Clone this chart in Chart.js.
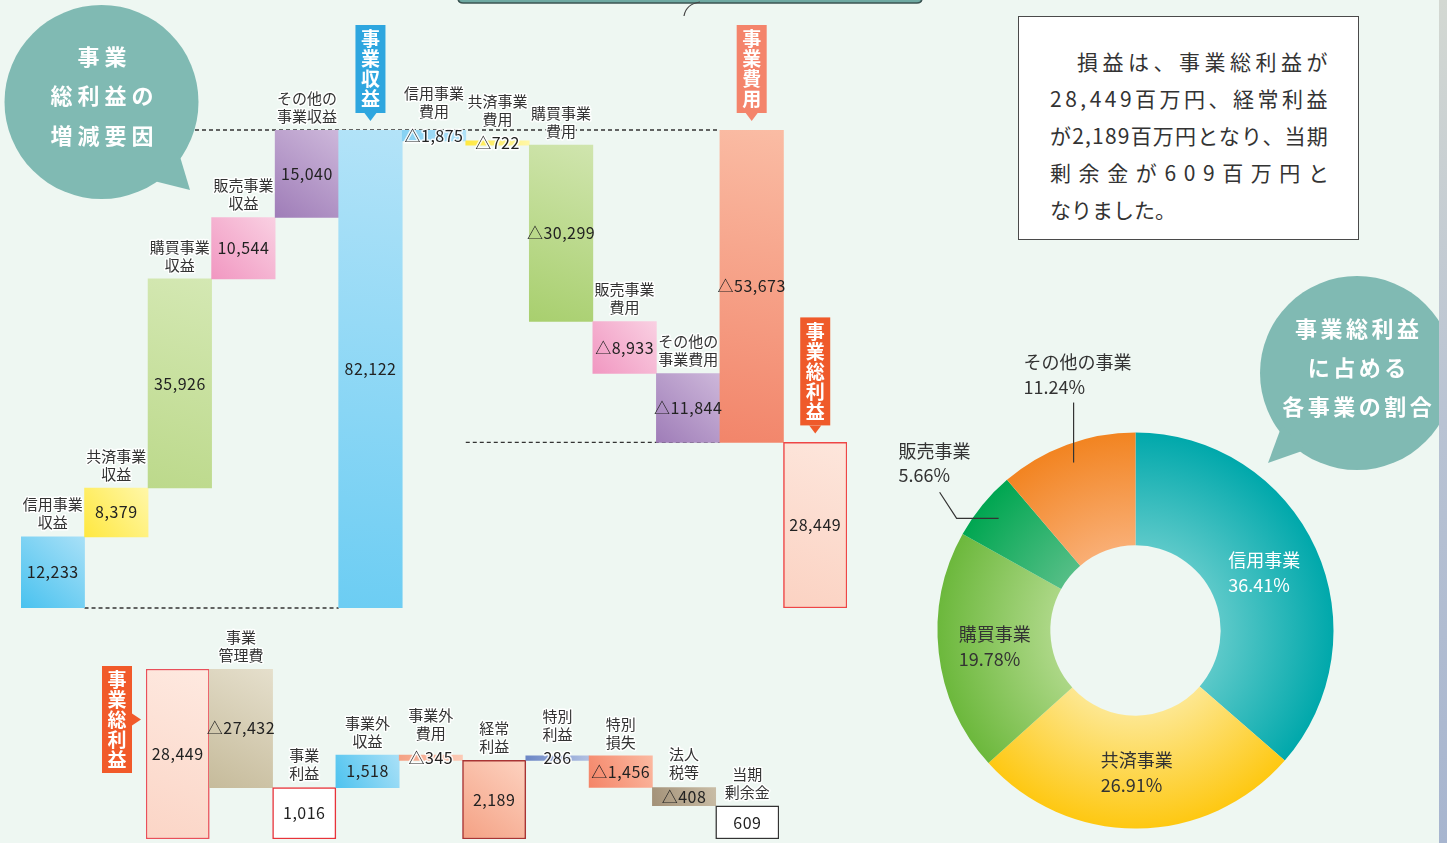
<!DOCTYPE html>
<html><head><meta charset="utf-8">
<script src="https://cdn.jsdelivr.net/npm/chart.js@4.4.1/dist/chart.umd.min.js"></script>
<style>
html,body{margin:0;padding:0;background:#eef7f2;width:1447px;height:843px;overflow:hidden;font-family:"Noto Sans CJK JP",sans-serif;}
canvas{position:absolute;}
#deco{position:absolute;left:0;top:0;}
.bt{position:absolute;box-sizing:border-box;width:200px;color:#fff;font-weight:700;font-size:22px;line-height:28px;text-align:center;white-space:nowrap;}
#note{position:absolute;left:1018px;top:16px;width:341px;height:224px;box-sizing:border-box;border:1px solid #4a4a4a;background:#fff;}
.nl{position:absolute;left:31px;font-size:21px;line-height:24px;color:#333;text-align:left;white-space:nowrap;}
</style></head>
<body>
<svg id="deco" width="1447" height="843">
  <defs>
    <linearGradient id="strip" x1="0" y1="0" x2="0" y2="1">
      <stop offset="0" stop-color="#d3d8d2"/><stop offset="0.5" stop-color="#b9c3d3"/><stop offset="1" stop-color="#a7b5cf"/>
    </linearGradient>
  </defs>
  <path d="M458,-10 L458,-2 Q458,3 463,3 L917,3 Q922,3 922,-2 L922,-10 Z" fill="#6ea9a2" stroke="#3b5553" stroke-width="1.5"/>
  <path d="M684,16 Q686,4 700,2" fill="none" stroke="#444" stroke-width="1.2"/>
  <circle cx="101.5" cy="102" r="97" fill="#80bab3"/>
  <polygon points="150,180 190,190 178,150" fill="#80bab3"/>
  <circle cx="1357" cy="373" r="97" fill="#80bab3"/>
  <polygon points="1282,425 1268,463 1305,450" fill="#80bab3"/>
  <rect x="1439" y="0" width="8" height="843" fill="url(#strip)"/>
</svg>

<canvas id="topChart" width="900" height="620" style="left:0;top:0"></canvas>
<canvas id="bottomChart" width="900" height="223" style="left:0;top:620px"></canvas>
<canvas id="donut" width="520" height="503" style="left:880px;top:340px"></canvas>

<div class="bt" style="left:2px;top:41px;letter-spacing:5px;padding-left:5px">事業</div>
<div class="bt" style="left:2px;top:80px;letter-spacing:5px;padding-left:5px">総利益の</div>
<div class="bt" style="left:2px;top:120px;letter-spacing:5px;padding-left:5px">増減要因</div>
<div class="bt" style="left:1257px;top:313px;letter-spacing:3.5px;padding-left:3.5px">事業総利益</div>
<div class="bt" style="left:1257px;top:352px;letter-spacing:3.5px;padding-left:3.5px">に占める</div>
<div class="bt" style="left:1257px;top:391px;letter-spacing:3.5px;padding-left:3.5px">各事業の割合</div>

<div id="note">
  <div class="nl" style="top:32px;left:58px;letter-spacing:4.5px">損益は、事業総利益が</div>
  <div class="nl" style="top:69px;letter-spacing:3.5px">28,449百万円、経常利益</div>
  <div class="nl" style="top:106px;letter-spacing:1.2px">が2,189百万円となり、当期</div>
  <div class="nl" style="top:143px;letter-spacing:7.6px">剰余金が609百万円と</div>
  <div class="nl" style="top:180px;">なりました。</div>
</div>

<script>
// ===== DATA =====
const topCategories = ['信用事業\n収益','共済事業\n収益','購買事業\n収益','販売事業\n収益','その他の\n事業収益','事業収益',
  '信用事業\n費用','共済事業\n費用','購買事業\n費用','販売事業\n費用','その他の\n事業費用','事業費用','事業総利益'];
const topValues = [12233, 8379, 35926, 10544, 15040, 82122, -1875, -722, -30299, -8933, -11844, -53673, 28449];
const topKinds  = ['step','step','step','step','step','total','step','step','step','step','step','span','total'];

const bottomCategories = ['事業総利益','事業\n管理費','事業\n利益','事業外\n収益','事業外\n費用','経常\n利益','特別\n利益','特別\n損失','法人\n税等','当期\n剰余金'];
const bottomValues = [28449, -27432, 1016, 1518, -345, 2189, 286, -1456, -408, 609];
const bottomKinds  = ['total','step','total','step','step','total','step','step','step','total'];

const shareLabels = ['信用事業','共済事業','購買事業','販売事業','その他の事業'];
const shareValues = [36.41, 26.91, 19.78, 5.66, 11.24];

// ===== STYLES =====
const topColors = [['#a8e0f7','#49c2ef'],['#fff7a8','#ffe840'],['#d4e8b3','#bcd98b'],['#f9d0e2','#f197c1'],['#cdb7da','#9f7db8'],
  ['#b3e3f8','#6ccdf3'],['#b0e2f8','#86d1f3'],['#fff7a8','#ffe840'],['#d0e5ae','#a8cf6e'],['#f9d0e2','#f197c1'],['#cdb7da','#9f7db8'],
  ['#fabca4','#f2856a'],['#fde6dc','#fbd2c2']];
const topBorder = ['','','','','','','','','','','','','#ee4646'];
const topTagColors = {5:'#2ea6df',11:'#f4846b',12:'#ef5a2a'};
const bottomColors = [['#fee9e0','#fbd5c6'],['#e5dfcc','#c6bb9b'],['#ffffff','#ffffff'],['#a9e0f7','#4ec3ef'],['#fccab6','#f4a184'],
  ['#fdd2c0','#f4a184'],['#b2c1e3','#6b86c5'],['#fbb9a1','#f48467'],['#c9bda6','#a39178'],['#ffffff','#ffffff']];
const bottomBorder = ['#e9505a','','#e8333a','','','#a83434','','','','#333333'];
const bottomTagColors = {0:'#f15a2a'};
const bottomAxisFloor = 240;   // lower bound of the logarithmic axis
const donutColors = [['#5cc9c9','#00a8ab'],['#fde790','#fec812'],['#acd786','#6cb83c'],['#55be86','#00a651'],['#f9ae74','#f28421']];
const donutTextColors = ['#ffffff','#333333','#333333','#333333','#333333'];
const donutPlacement = ['in','in','in','left','up'];

const FONT = '"Noto Sans CJK JP", sans-serif';
Chart.defaults.font.family = FONT;

function waterfall(values, kinds, floor){
  let level = 0, anchor = 0; const out = [];
  values.forEach((v,i)=>{
    const k = kinds[i];
    if(k==='total'){ out.push([floor, v]); level=v; anchor=v; }
    else if(k==='span'){ out.push([anchor+v, anchor]); level=anchor+v; }
    else { out.push([level, level+v]); level += v; }
  });
  return out;
}
const fmt = v => (v<0?'△':'') + Math.abs(v).toLocaleString('en-US');

function barGradient(pairs, ranges){
  return (c)=>{
    const ch=c.chart, ca=ch.chartArea, i=c.dataIndex;
    if(!ca) return pairs[i][1];
    const xs=ch.scales.x, ys=ch.scales.y;
    const w=(ca.right-ca.left)/ranges.length, xc=xs.getPixelForValue(i);
    const y0=ys.getPixelForValue(Math.max(...ranges[i])), y1=ys.getPixelForValue(Math.min(...ranges[i]));
    const g=ch.ctx.createLinearGradient(xc+w/2, y0, xc-w/2, y1);
    g.addColorStop(0,pairs[i][0]); g.addColorStop(1,pairs[i][1]);
    return g;
  };
}

function drawDownTag(ctx, cx, tipY, text, color){
  const chars=[...text], step=20, w=30, arrow=8;
  const h=chars.length*step+8, bottom=tipY-arrow, top=bottom-h;
  ctx.save();
  ctx.fillStyle=color; ctx.fillRect(cx-w/2, top, w, h);
  ctx.beginPath(); ctx.moveTo(cx-6,bottom); ctx.lineTo(cx+6,bottom); ctx.lineTo(cx,tipY); ctx.closePath(); ctx.fill();
  ctx.fillStyle='#fff'; ctx.font='bold 19px '+FONT; ctx.textAlign='center'; ctx.textBaseline='middle';
  chars.forEach((ch,k)=>ctx.fillText(ch, cx, top+4+step*(k+0.5)));
  ctx.restore();
}
function drawSideTag(ctx, tipX, top, text, color){
  const chars=[...text], step=20, w=30, arrow=9;
  const h=chars.length*step+7, right=tipX-arrow, left=right-w, cy=top+h/2;
  ctx.save();
  ctx.fillStyle=color; ctx.fillRect(left, top, w, h);
  ctx.beginPath(); ctx.moveTo(right,cy-6); ctx.lineTo(right,cy+6); ctx.lineTo(tipX,cy); ctx.closePath(); ctx.fill();
  ctx.fillStyle='#fff'; ctx.font='bold 19px '+FONT; ctx.textAlign='center'; ctx.textBaseline='middle';
  chars.forEach((ch,k)=>ctx.fillText(ch, left+w/2, top+4+step*(k+0.5)));
  ctx.restore();
}
function haloText(ctx, t, x, y){
  ctx.strokeText(t, x, y); ctx.fillText(t, x, y);
}

function labelPlugin(categories, values, tagColors, sideTag){
  return {
    id:'wfLabels',
    afterDatasetsDraw(chart){
      const ctx=chart.ctx, meta=chart.getDatasetMeta(0);
      ctx.save();
      meta.data.forEach((bar,i)=>{
        const p=bar.getProps(['x','y','base','width'], true);
        const top=Math.min(p.y,p.base), bot=Math.max(p.y,p.base), mid=(top+bot)/2;
        ctx.font='16px '+FONT; ctx.textAlign='center'; ctx.textBaseline='middle';
        if('letterSpacing' in ctx) ctx.letterSpacing='0.5px';
        ctx.fillStyle='#222';
        if(bot-top<18){ ctx.strokeStyle='rgba(255,255,255,0.85)'; ctx.lineWidth=3; ctx.lineJoin='round'; haloText(ctx, fmt(values[i]), p.x, mid); }
        else ctx.fillText(fmt(values[i]), p.x, mid);
        if('letterSpacing' in ctx) ctx.letterSpacing='0px';
        const cat=categories[i];
        if(cat.includes('\n')){
          const ref=Math.min(top, mid-10);
          const lines=cat.split('\n');
          ctx.font='15px '+FONT; ctx.fillStyle='#333';
          ctx.strokeStyle='rgba(255,255,255,0.9)'; ctx.lineWidth=3; ctx.lineJoin='round';
          haloText(ctx, lines[0], p.x, ref-32);
          haloText(ctx, lines[1], p.x, ref-14);
        } else if(tagColors[i]){
          if(sideTag) drawSideTag(ctx, p.x-p.width/2-5, top-3, cat, tagColors[i]);
          else drawDownTag(ctx, p.x, top-9, cat, tagColors[i]);
        }
      });
      ctx.restore();
    }
  };
}

// ===== TOP WATERFALL =====
const topRanges = waterfall(topValues, topKinds, 0);
const revIdx = topKinds.indexOf('total');
const costIdx = topKinds.indexOf('span');
const grossIdx = topKinds.lastIndexOf('total');
const topDash = {
  id:'topDash',
  beforeDatasetsDraw(chart){
    const ctx=chart.ctx, ys=chart.scales.y, d=chart.getDatasetMeta(0).data;
    const half=d[0].width/2;
    const line=(x1,x2,y)=>{ctx.beginPath();ctx.moveTo(x1,y);ctx.lineTo(x2,y);ctx.stroke();};
    ctx.save(); ctx.strokeStyle='#333'; ctx.lineWidth=1.3; ctx.setLineDash([4,3]);
    line(195, d[costIdx].x-half, ys.getPixelForValue(topValues[revIdx]));
    line(d[0].x+half, d[revIdx].x-half, ys.getPixelForValue(0));
    line(d[revIdx+1].x+half, d[costIdx].x-half, ys.getPixelForValue(topValues[grossIdx]));
    ctx.restore();
  }
};
new Chart(document.getElementById('topChart'), {
  type:'bar',
  data:{labels:topCategories, datasets:[{
    data:topRanges,
    backgroundColor:barGradient(topColors, topRanges),
    borderColor:topBorder.map(c=>c||'rgba(0,0,0,0)'),
    borderWidth:topBorder.map(c=>c?1.5:0),
    borderSkipped:false, categoryPercentage:1, barPercentage:1
  }]},
  options:{
    responsive:false, animation:false, devicePixelRatio:1,
    layout:{padding:{left:21,top:130,right:53,bottom:12}},
    scales:{x:{display:false}, y:{display:false, min:0, max:Math.max(...topRanges.flat())}},
    plugins:{legend:{display:false}, tooltip:{enabled:false}}
  },
  plugins:[topDash, labelPlugin(topCategories, topValues, topTagColors, false)]
});

// ===== BOTTOM WATERFALL (logarithmic axis) =====
const bottomRanges = waterfall(bottomValues, bottomKinds, bottomAxisFloor);
new Chart(document.getElementById('bottomChart'), {
  type:'bar',
  data:{labels:bottomCategories, datasets:[{
    data:bottomRanges,
    backgroundColor:barGradient(bottomColors, bottomRanges),
    borderColor:bottomBorder.map(c=>c||'rgba(0,0,0,0)'),
    borderWidth:bottomBorder.map(c=>c?1.5:0),
    borderSkipped:false, categoryPercentage:1, barPercentage:1
  }]},
  options:{
    responsive:false, animation:false, devicePixelRatio:1,
    layout:{padding:{left:146,top:49,right:121,bottom:4}},
    scales:{x:{display:false}, y:{type:'logarithmic', display:false, bounds:'data', min:bottomAxisFloor, max:Math.max(...bottomRanges.flat())}},
    plugins:{legend:{display:false}, tooltip:{enabled:false}}
  },
  plugins:[labelPlugin(bottomCategories, bottomValues, bottomTagColors, true)]
});

// ===== DOUGHNUT =====
const donutLabels = {
  id:'donutLabels',
  afterDatasetsDraw(chart){
    const ctx=chart.ctx, meta=chart.getDatasetMeta(0);
    ctx.save(); ctx.font='18px '+FONT; ctx.textBaseline='middle'; ctx.textAlign='left';
    meta.data.forEach((arc,i)=>{
      const p=arc.getProps(['x','y','startAngle','endAngle','innerRadius','outerRadius'], true);
      const a=(p.startAngle+p.endAngle)/2;
      const name=shareLabels[i], pct=shareValues[i].toFixed(2)+'%';
      ctx.fillStyle=donutTextColors[i];
      if(donutPlacement[i]==='in'){
        const r=(p.innerRadius+p.outerRadius)/2;
        const px=p.x+r*Math.cos(a), py=p.y+r*Math.sin(a);
        const w=Math.max(ctx.measureText(name).width, ctx.measureText(pct).width);
        ctx.fillText(name, px-w/2, py-12); ctx.fillText(pct, px-w/2, py+13);
      } else {
        ctx.strokeStyle='#333'; ctx.lineWidth=1.2;
        if(donutPlacement[i]==='left'){
          const r=p.outerRadius-21, px=p.x+r*Math.cos(a), py=p.y+r*Math.sin(a);
          ctx.beginPath(); ctx.moveTo(px,py); ctx.lineTo(px-42,py); ctx.lineTo(px-59,py-26); ctx.stroke();
          ctx.fillText(name, px-100, py-67); ctx.fillText(pct, px-100, py-43);
        } else {
          const r=p.outerRadius-19, px=p.x+r*Math.cos(a), py=p.y+r*Math.sin(a);
          ctx.beginPath(); ctx.moveTo(px,py); ctx.lineTo(px,py-60); ctx.stroke();
          ctx.fillText(name, px-50, py-100); ctx.fillText(pct, px-50, py-75);
        }
      }
    });
    ctx.restore();
  }
};
new Chart(document.getElementById('donut'), {
  type:'doughnut',
  data:{labels:shareLabels, datasets:[{
    data:shareValues,
    backgroundColor:(c)=>{
      const ch=c.chart, ca=ch.chartArea, i=c.dataIndex;
      if(!ca) return donutColors[i][1];
      const cx=(ca.left+ca.right)/2, cy=(ca.top+ca.bottom)/2, R=Math.min(ca.right-ca.left, ca.bottom-ca.top)/2;
      const g=ch.ctx.createRadialGradient(cx,cy,R*0.43,cx,cy,R);
      g.addColorStop(0,donutColors[i][0]); g.addColorStop(1,donutColors[i][1]);
      return g;
    },
    borderWidth:0
  }]},
  options:{
    responsive:false, animation:false, devicePixelRatio:1, cutout:'43%',
    layout:{padding:{left:57.5,top:92.5,right:66.5,bottom:14.5}},
    plugins:{legend:{display:false}, tooltip:{enabled:false}}
  },
  plugins:[donutLabels]
});
</script>
</body></html>
